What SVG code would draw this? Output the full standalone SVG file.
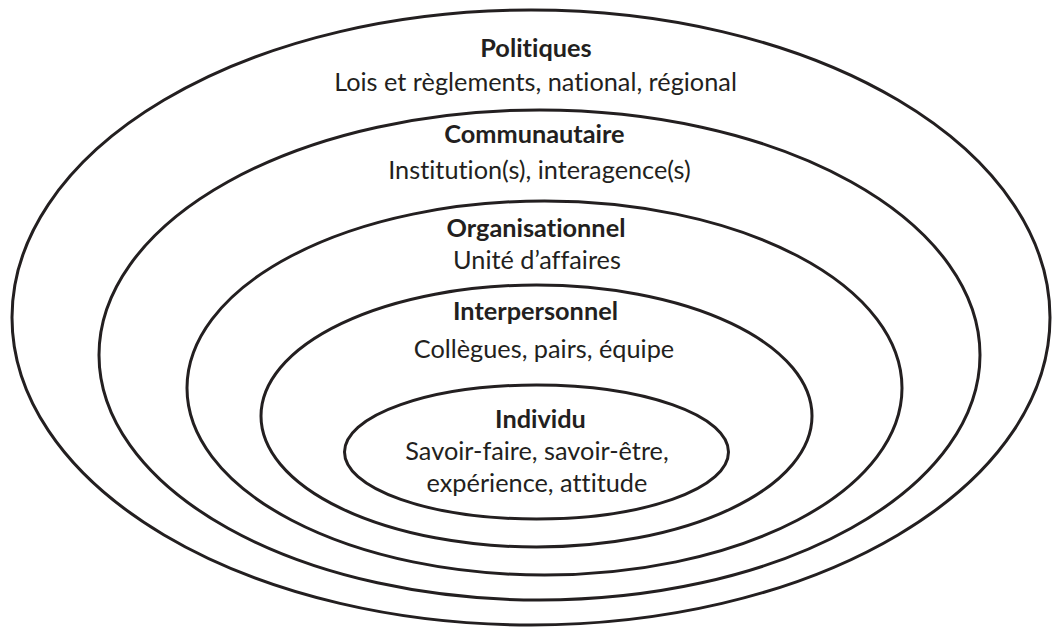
<svg xmlns="http://www.w3.org/2000/svg" width="1055" height="628" viewBox="0 0 1055 628">
<style>
.ring{fill:none;stroke:#231f20;stroke-width:3}
.t{font-family:Lato,"Liberation Sans",sans-serif;font-size:25.3px;fill:#231f20;text-anchor:middle;font-variant-ligatures:none;font-feature-settings:"liga" 0,"clig" 0}
.b{font-weight:bold}
</style>
<rect width="1055" height="628" fill="#ffffff"/>
<g id="politiques">
<ellipse class="ring" cx="531" cy="317.5" rx="519" ry="307.5"/>
<text class="t b" x="536" y="57">Politiques</text>
<text class="t" x="535.5" y="91">Lois et règlements, national, régional</text>
</g>
<g id="communautaire">
<ellipse class="ring" cx="539.5" cy="355" rx="440.5" ry="245"/>
<text class="t b" x="534.5" y="143">Communautaire</text>
<text class="t" x="539.5" y="179">Institution(s), interagence(s)</text>
</g>
<g id="organisationnel">
<ellipse class="ring" cx="544.5" cy="388" rx="357.5" ry="187"/>
<text class="t b" x="536" y="237">Organisationnel</text>
<text class="t" x="537" y="269">Unité d’affaires</text>
</g>
<g id="interpersonnel">
<ellipse class="ring" cx="536.5" cy="416" rx="275.5" ry="131"/>
<text class="t b" x="535.5" y="320">Interpersonnel</text>
<text class="t" x="544" y="358">Collègues, pairs, équipe</text>
</g>
<g id="individu">
<ellipse class="ring" cx="536.5" cy="452" rx="192" ry="67"/>
<text class="t b" x="540.5" y="428">Individu</text>
<text class="t" x="537" y="460">Savoir-faire, savoir-être,</text>
<text class="t" x="537" y="492">expérience, attitude</text>
</g>
<g id="connectors"/>
</svg>
